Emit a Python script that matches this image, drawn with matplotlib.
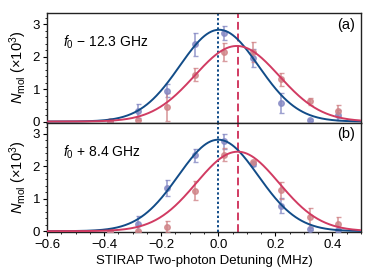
import numpy as np
import matplotlib
matplotlib.use('Agg')
import matplotlib.pyplot as plt
from matplotlib.ticker import MultipleLocator

plt.rcParams['font.family'] = ['Liberation Sans', 'DejaVu Sans']
plt.rcParams['mathtext.fontset'] = 'custom'
plt.rcParams['mathtext.rm'] = 'Liberation Sans'
plt.rcParams['mathtext.it'] = 'Liberation Sans:italic'
plt.rcParams['mathtext.bf'] = 'Liberation Sans:bold'
plt.rcParams['font.size'] = 9

# detuning of the data points (MHz)
detuning = [-0.38, -0.28, -0.18, -0.08, 0.02, 0.12, 0.22, 0.32, 0.42]

# panel (a): f0 - 12.3 GHz
a_blue = [0.0, 0.33, 0.95, 2.38, 2.72, 1.97, 0.57, 0.05, 0.21]
a_blue_err = [0.0, 0.22, 0.20, 0.36, 0.22, 0.28, 0.30, 0.03, 0.15]
a_red = [0.02, 0.05, 0.44, 1.44, 2.15, 2.15, 1.30, 0.62, 0.34]
a_red_err = [0.0, 0.0, 0.43, 0.20, 0.28, 0.30, 0.19, 0.10, 0.17]

# panel (b): f0 + 8.4 GHz
b_blue = [0.0, 0.23, 1.33, 2.34, 2.77, 2.07, 0.79, 0.08, 0.02]
b_blue_err = [0.0, 0.23, 0.24, 0.20, 0.23, 0.07, 0.24, 0.03, 0.0]
b_red = [0.01, 0.0, 0.14, 1.25, 2.36, 2.12, 1.26, 0.43, 0.23]
b_red_err = [0.0, 0.0, 0.17, 0.29, 0.20, 0.05, 0.27, 0.29, 0.20]

# gaussian fit parameters (amplitude, centre, width)
a_blue_fit = (2.83, 0.003, 0.138)
a_red_fit = (2.33, 0.065, 0.148)
b_blue_fit = (2.82, 0.0, 0.140)
b_red_fit = (2.45, 0.068, 0.145)

blue_line_pos = 0.0
red_line_pos = 0.068

labels = ['$f_0$ \u2212 12.3 GHz', '$f_0$ + 8.4 GHz']
tags = ['(a)', '(b)']

c_blue = '#124c88'
c_red = '#d13b62'
c_blue_pt = '#8589c4'
c_red_pt = '#d08488'


def gauss(x, p):
    A, mu, s = p
    return A*np.exp(-(x-mu)**2/(2*s**2))


fig, axs = plt.subplots(2, 1, sharex=True, figsize=(3.74, 2.8), dpi=100)
fig.subplots_adjust(left=0.126, right=0.965, top=0.954, bottom=0.171, hspace=0)

xx = np.linspace(-0.6, 0.5, 400)
sets = [(a_blue, a_blue_err, a_red, a_red_err, a_blue_fit, a_red_fit),
        (b_blue, b_blue_err, b_red, b_red_err, b_blue_fit, b_red_fit)]

for i, ax in enumerate(axs):
    yb, eb, yr, er, fb, fr = sets[i]
    ax.errorbar(detuning, yb, eb, fmt='o', c=c_blue_pt, ms=4, capsize=1.8,
                elinewidth=1.2, capthick=1.0, alpha=0.8, zorder=3)
    ax.errorbar(detuning, yr, er, fmt='o', c=c_red_pt, ms=4, capsize=1.8,
                elinewidth=1.2, capthick=1.0, alpha=0.8, zorder=3)
    ax.plot(xx, gauss(xx, fb), c=c_blue, lw=1.4, zorder=4)
    ax.plot(xx, gauss(xx, fr), c=c_red, lw=1.4, zorder=4)
    ax.axvline(blue_line_pos, c=c_blue, ls=(0, (1.2, 1.2)), lw=1.4, zorder=2)
    ax.axvline(red_line_pos, c=c_red, ls=(0, (4, 2)), lw=1.4, zorder=2)
    ax.set_xlim(-0.6, 0.5)
    ax.set_ylim(-0.03, 3.35)
    ax.yaxis.set_major_locator(MultipleLocator(1))
    ax.yaxis.set_minor_locator(MultipleLocator(0.2))
    ax.xaxis.set_major_locator(MultipleLocator(0.2))
    ax.xaxis.set_minor_locator(MultipleLocator(0.05))
    ax.tick_params(which='major', length=3, width=0.8, labelsize=9.5, pad=2)
    ax.tick_params(which='minor', length=1.6, width=0.6)
    ax.set_ylabel(r'$N_{\rm mol}$ $(\times 10^3)$', fontsize=10.5, labelpad=3)
    ax.text(0.05, 0.73, labels[i], transform=ax.transAxes, fontsize=10,
            va='center', ha='left')
    ax.text(0.98, 0.955, tags[i], transform=ax.transAxes, fontsize=10.5,
            va='top', ha='right')
    for sp in ax.spines.values():
        sp.set_linewidth(1.0)
        sp.set_color('#222222')

axs[0].tick_params(axis='x', which='both', length=0)
axs[1].set_xlabel('STIRAP Two-photon Detuning (MHz)', fontsize=9.5, labelpad=3)

fig.savefig('out.png', dpi=100)
